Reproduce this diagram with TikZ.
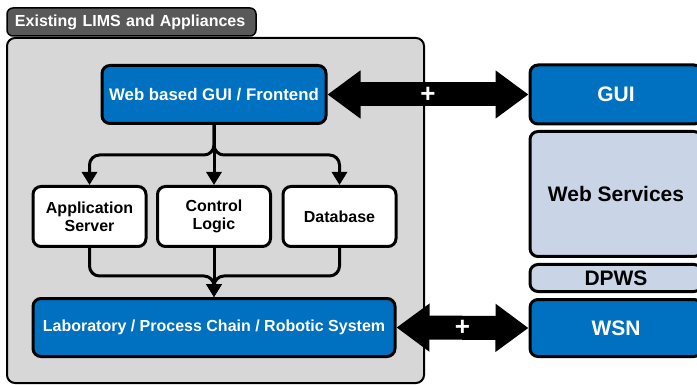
\documentclass[tikz,border=0pt]{standalone}
\usepackage{fontspec}
\setmainfont{Liberation Sans}
\usepackage{tikz}
\usetikzlibrary{arrows.meta,calc}
\usepackage{xcolor}
\definecolor{limsblue}{HTML}{0070C0}
\definecolor{stackblue}{HTML}{C9D5E6}
\definecolor{limsgray}{HTML}{D7D7D7}
\definecolor{tabgray}{HTML}{595959}
\tikzstyle{module} = [rectangle, draw, line width=3pt, rounded corners=8pt, align=center, %
inner sep=2pt, font=\fontsize{16}{18}\selectfont\bfseries]
\tikzstyle{bluemodule} = [module, fill=limsblue, text=white]
\tikzstyle{whitemodule} = [module, fill=white, minimum width=113pt, minimum height=60pt]
\tikzstyle{stackmodule} = [module, fill=stackblue, minimum width=172pt, font=\fontsize{21}{24}\selectfont\bfseries]
\tikzstyle{flow} = [draw, line width=3pt, -{Triangle[length=13pt,width=15pt]}]
\tikzstyle{fatarrow} = [draw, line width=24pt, {Triangle[length=33pt,width=46pt]}-{Triangle[length=33pt,width=46pt]}]
\tikzstyle{plus} = [text=white, font=\fontsize{26}{26}\selectfont\bfseries, inner sep=0pt]

\begin{document}
\begin{tikzpicture}[x=1pt, y=-1pt]
    \useasboundingbox (0,0) rectangle (697,385);
    % existing system
    \node[rectangle, draw, line width=1.5pt, rounded corners=6pt, fill=tabgray, text=white, %
      minimum height=28pt, text width=233pt, inner xsep=8pt, align=left, %
      font=\fontsize{16}{18}\selectfont\bfseries] (tab) at (131.5,22) {Existing LIMS and Appliances};
    \node[rectangle, draw, line width=2pt, rounded corners=8pt, fill=limsgray, %
      minimum width=417pt, minimum height=345pt] (lims) at (215.5,210.5) {};
    \node[bluemodule, minimum width=224pt, minimum height=58pt, font=\fontsize{16.8}{18}\selectfont\bfseries] (webgui) at (214,94.5) {Web based GUI / Frontend};
    \node[whitemodule, below of=webgui, node distance=122pt] (control) {Control\\Logic};
    \node[whitemodule, left of=control, node distance=124.5pt] (appserver) {Application\\Server};
    \node[whitemodule, right of=control, node distance=125.5pt] (database) {Database};
    \node[bluemodule, minimum width=362pt, minimum height=58pt, below of=control, node distance=111pt] (lab) {Laboratory / Process Chain / Robotic System};
    % right stack
    \node[stackmodule, fill=limsblue, text=white, minimum height=59pt] (gui) at (616,94.5) {GUI};
    \node[stackmodule, minimum height=125pt, below of=gui, node distance=99.5pt] (websvc) {Web Services};
    \node[stackmodule, minimum height=27pt, below of=websvc, node distance=84pt] (dpws) {DPWS};
    \node[stackmodule, fill=limsblue, text=white, minimum height=57pt, below of=dpws, node distance=50pt] (wsn) {WSN};
    % draw arrows
    \coordinate (split) at (214,155);
    \coordinate (merge) at (214,276);
    \path[flow] (webgui.south) -- (control.north);
    \path[flow, rounded corners=10pt] (webgui.south) |- (split -| appserver.north) -- (appserver.north);
    \path[flow, rounded corners=10pt] (webgui.south) |- (split -| database.north) -- (database.north);
    \path[flow] (control.south) -- (lab.north);
    \path[flow, rounded corners=10pt] (appserver.south) |- (merge) -- (lab.north);
    \path[flow, rounded corners=10pt] (database.south) |- (merge) -- (lab.north);
    \path[fatarrow] (webgui.east) -- (gui.west) node[midway, plus] (plustop) {+};
    \path[fatarrow] (lab.east) -- (wsn.west) node[midway, plus] (plusbottom) {+};
  \end{tikzpicture}
\end{document}
